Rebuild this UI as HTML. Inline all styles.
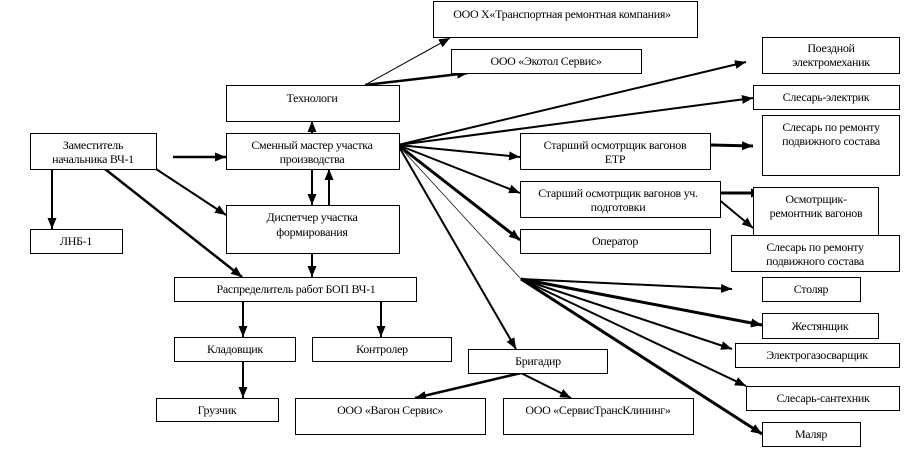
<!DOCTYPE html>
<html><head><meta charset="utf-8"><style>
html,body{margin:0;padding:0;background:#fff;}
svg{display:block;}
text{font-family:"Liberation Serif","DejaVu Serif",serif;font-size:12px;fill:#000;text-anchor:middle;letter-spacing:-0.3px;}
rect{fill:#fff;stroke:#000;stroke-width:1;}
line{stroke:#000;}
</style></head><body>
<svg width="912" height="469" viewBox="0 0 912 469" xmlns="http://www.w3.org/2000/svg">
<defs>
<marker id="a" viewBox="0 0 10 10" refX="10" refY="5" markerWidth="11" markerHeight="9" markerUnits="userSpaceOnUse" orient="auto" preserveAspectRatio="none"><path d="M0,0 L10,5 L0,10 z" fill="#000"/></marker>
</defs>
<g fill="none">
<line x1="365" y1="85" x2="450" y2="38" stroke-width="1" marker-end="url(#a)"/>
<line x1="365" y1="85" x2="468" y2="73" stroke-width="2.5" marker-end="url(#a)"/>
<line x1="312" y1="133" x2="312" y2="121" stroke-width="2" marker-end="url(#a)"/>
<line x1="173" y1="157" x2="226" y2="157" stroke-width="2.5" marker-end="url(#a)"/>
<line x1="52" y1="169" x2="52" y2="229" stroke-width="2" marker-end="url(#a)"/>
<line x1="156" y1="169" x2="226" y2="215" stroke-width="2" marker-end="url(#a)"/>
<line x1="105" y1="169" x2="242" y2="277" stroke-width="2.5" marker-end="url(#a)"/>
<line x1="312" y1="169" x2="312" y2="205" stroke-width="2" marker-end="url(#a)"/>
<line x1="329" y1="205" x2="329" y2="169" stroke-width="2" marker-end="url(#a)"/>
<line x1="312" y1="241" x2="312" y2="277" stroke-width="2" marker-end="url(#a)"/>
<line x1="243" y1="301" x2="243" y2="337" stroke-width="2" marker-end="url(#a)"/>
<line x1="381" y1="301" x2="381" y2="337" stroke-width="2" marker-end="url(#a)"/>
<line x1="243" y1="361" x2="243" y2="398" stroke-width="2" marker-end="url(#a)"/>
<line x1="398" y1="145" x2="746" y2="62" stroke-width="2" marker-end="url(#a)"/>
<line x1="398" y1="145" x2="753" y2="98" stroke-width="2" marker-end="url(#a)"/>
<line x1="398" y1="145" x2="520" y2="157" stroke-width="2" marker-end="url(#a)"/>
<line x1="398" y1="145" x2="520" y2="193" stroke-width="2" marker-end="url(#a)"/>
<line x1="398" y1="145" x2="520" y2="240" stroke-width="3" marker-end="url(#a)"/>
<line x1="398" y1="145" x2="516" y2="349" stroke-width="2" marker-end="url(#a)"/>
<line x1="398" y1="145" x2="521" y2="279" stroke-width="0.7"/>
<line x1="521" y1="279" x2="732" y2="289" stroke-width="2" marker-end="url(#a)"/>
<line x1="521" y1="279" x2="762" y2="325" stroke-width="3" marker-end="url(#a)"/>
<line x1="521" y1="279" x2="732" y2="349" stroke-width="2" marker-end="url(#a)"/>
<line x1="521" y1="279" x2="746" y2="386" stroke-width="2" marker-end="url(#a)"/>
<line x1="521" y1="279" x2="762" y2="434" stroke-width="3" marker-end="url(#a)"/>
<line x1="711" y1="145" x2="753" y2="146" stroke-width="3" marker-end="url(#a)"/>
<line x1="711" y1="193" x2="762" y2="193" stroke-width="3" marker-end="url(#a)"/>
<line x1="711" y1="193" x2="753" y2="228" stroke-width="2" marker-end="url(#a)"/>
<line x1="521" y1="373" x2="415" y2="398" stroke-width="2.5" marker-end="url(#a)"/>
<line x1="521" y1="373" x2="571" y2="398" stroke-width="2" marker-end="url(#a)"/>
</g>
<rect x="433.5" y="1.5" width="264" height="36"/><text x="562" y="18">ООО Х«Транспортная ремонтная компания»</text>
<rect x="451.5" y="49.5" width="190" height="24"/><text x="546" y="65">ООО «Экотол Сервис»</text>
<rect x="226.5" y="85.5" width="173" height="36"/><text x="312" y="102">Технологи</text>
<rect x="30.5" y="133.5" width="126" height="36"/><text x="93" y="149">Заместитель</text><text x="93" y="163">начальника ВЧ-1</text>
<rect x="226.5" y="133.5" width="173" height="36"/><text x="312" y="149">Сменный мастер участка</text><text x="312" y="163">производства</text>
<rect x="226.5" y="205.5" width="173" height="48"/><text x="312" y="221">Диспетчер участка</text><text x="312" y="236">формирования</text>
<rect x="30.5" y="229.5" width="92" height="24"/><text x="76" y="245">ЛНБ-1</text>
<rect x="174.5" y="277.5" width="242" height="24"/><text x="296" y="293">Распределитель работ БОП ВЧ-1</text>
<rect x="174.5" y="337.5" width="121" height="24"/><text x="235" y="353">Кладовщик</text>
<rect x="312.5" y="337.5" width="139" height="24"/><text x="382" y="353">Контролер</text>
<rect x="156.5" y="398.5" width="122" height="23"/><text x="217" y="414">Грузчик</text>
<rect x="295.5" y="398.5" width="190" height="36"/><text x="390" y="414">ООО «Вагон Сервис»</text>
<rect x="503.5" y="398.5" width="190" height="36"/><text x="598" y="414">ООО «СервисТрансКлининг»</text>
<rect x="468.5" y="349.5" width="139" height="24"/><text x="538" y="365">Бригадир</text>
<rect x="762.5" y="37.5" width="137" height="36"/><text x="831" y="52">Поездной</text><text x="831" y="66">электромеханик</text>
<rect x="753.5" y="85.5" width="146" height="24"/><text x="826" y="101">Слесарь-электрик</text>
<rect x="762.5" y="115.5" width="137" height="60"/><text x="831" y="131">Слесарь по ремонту</text><text x="831" y="145">подвижного состава</text>
<rect x="520.5" y="133.5" width="190" height="36"/><text x="615" y="149">Старший осмотрщик вагонов</text><text x="615" y="163">ЕТР</text>
<rect x="520.5" y="181.5" width="200" height="36"/><text x="618" y="197">Старший осмотрщик вагонов уч.</text><text x="618" y="211">подготовки</text>
<rect x="753.5" y="187.5" width="125" height="48"/><text x="816" y="203">Осмотрщик-</text><text x="816" y="217">ремонтник вагонов</text>
<rect x="520.5" y="229.5" width="190" height="24"/><text x="615" y="245">Оператор</text>
<rect x="731.5" y="235.5" width="168" height="36"/><text x="815" y="251">Слесарь по ремонту</text><text x="815" y="265">подвижного состава</text>
<rect x="762.5" y="277.5" width="98" height="24"/><text x="811" y="293">Столяр</text>
<rect x="762.5" y="313.5" width="116" height="25"/><text x="820" y="330">Жестянщик</text>
<rect x="735.5" y="343.5" width="164" height="24"/><text x="817" y="359">Электрогазосварщик</text>
<rect x="746.5" y="386.5" width="153" height="24"/><text x="823" y="402">Слесарь-сантехник</text>
<rect x="762.5" y="422.5" width="98" height="24"/><text x="811" y="438">Маляр</text>
</svg>
</body></html>
